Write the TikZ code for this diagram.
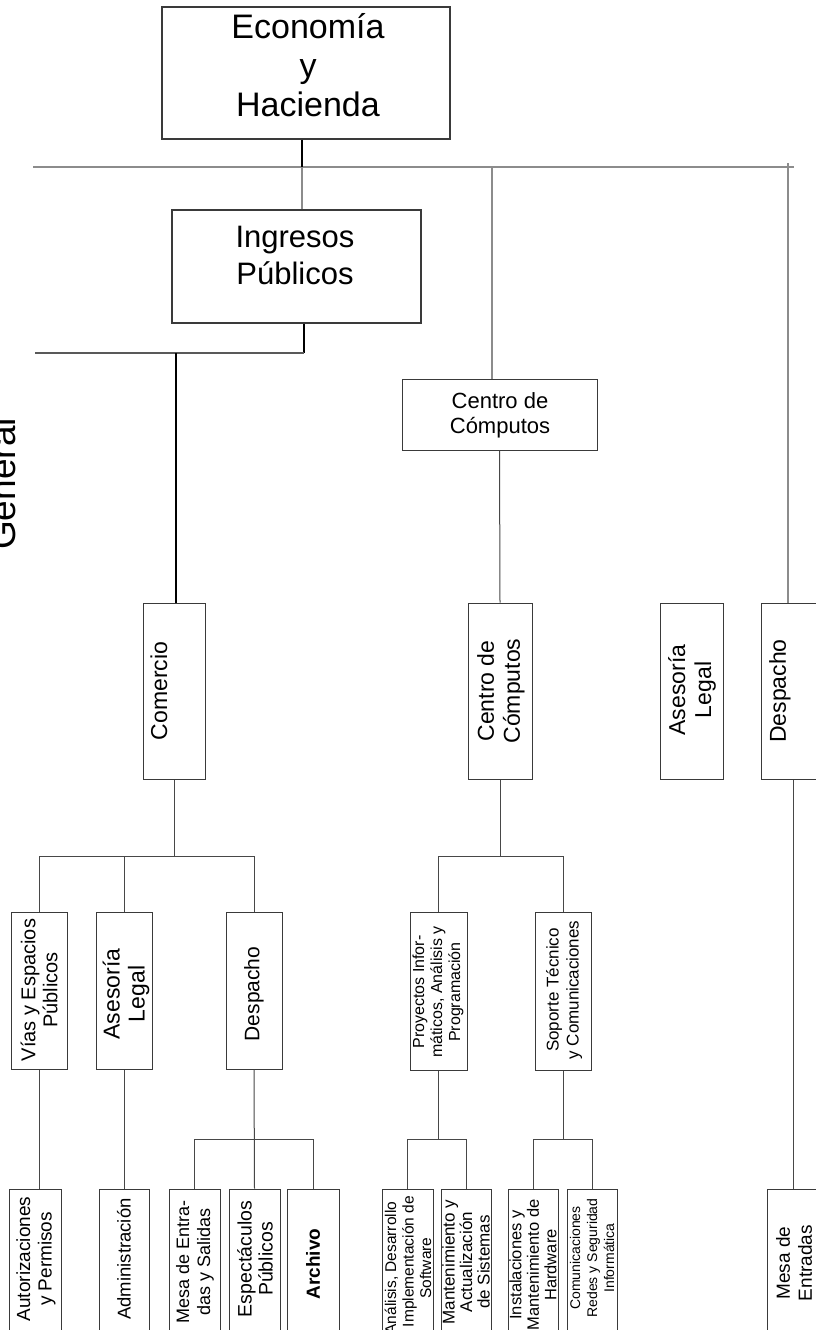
\documentclass[tikz,border=0pt]{standalone}
\usepackage{fontspec}
\setmainfont{Liberation Sans}
\definecolor{lgray}{HTML}{8C8C8C}
\definecolor{dgray}{HTML}{3A3A3A}
\newcommand\fsz[2]{\fontsize{#1}{#2}\selectfont}
\tikzset{
  bx/.style={draw=dgray, line width=1pt, inner sep=0pt, fill=white},
  gry/.style={draw=lgray, line width=2pt},
  ln/.style={draw=black!72, line width=1pt},
  blk/.style={draw=black, line width=1.6pt},
  thk/.style={draw=black, line width=2.2pt},
  dkg/.style={draw=black!65, line width=2pt},
  tx/.style={inner sep=0pt, align=center, text=black},
  rt/.style={tx, rotate=90},
}
\begin{document}
\begin{tikzpicture}[x=1pt,y=-1pt]
\path[use as bounding box] (0,0) rectangle (816,1330);
\clip (0,0) rectangle (816,1330);
\fill[white] (0,0) rectangle (816,1330);

% ---------- boxes ----------
\node[bx, line width=1.2pt, minimum width=288pt, minimum height=132pt] (eco) at (306,73) {};
\node[bx, line width=1.2pt, minimum width=249pt, minimum height=113pt] (ing) at (296.5,266.5) {};
\node[bx, minimum width=195pt, minimum height=71pt] (ccA) at (499.5,414.5) {};

\node[bx, minimum width=62pt, minimum height=176pt] (com) at (174,691) {};
\node[bx, minimum width=64pt, minimum height=176pt] (ccB) at (500,691) {};
\node[bx, minimum width=63pt, minimum height=176pt] (alR) at (691.5,691) {};
\node[bx, minimum width=64pt, minimum height=176pt] (despR) at (793,691) {};

\node[bx, minimum width=56pt, minimum height=157pt] (vias) at (39,990.5) {};
\node[bx, minimum width=56pt, minimum height=157pt] (alC) at (124,990.5) {};
\node[bx, minimum width=56pt, minimum height=157pt] (despC) at (254,990.5) {};
\node[bx, minimum width=57pt, minimum height=158pt] (proy) at (438.5,991) {};
\node[bx, minimum width=56pt, minimum height=158pt] (sop) at (563,991) {};

\node[bx, minimum width=52pt, minimum height=147pt] (aut) at (35,1262.5) {};
\node[bx, minimum width=50pt, minimum height=147pt] (adm) at (124,1262.5) {};
\node[bx, minimum width=51pt, minimum height=147pt] (mesaC) at (194.5,1262.5) {};
\node[bx, minimum width=51pt, minimum height=147pt] (esp) at (254.5,1262.5) {};
\node[bx, minimum width=52pt, minimum height=147pt] (arch) at (313,1262.5) {};
\node[bx, minimum width=51pt, minimum height=147pt] (anal) at (407.5,1262.5) {};
\node[bx, minimum width=50pt, minimum height=147pt] (mant) at (466,1262.5) {};
\node[bx, minimum width=50pt, minimum height=147pt] (inst) at (533,1262.5) {};
\node[bx, minimum width=50pt, minimum height=147pt] (comu) at (592,1262.5) {};
\node[bx, minimum width=52pt, minimum height=147pt] (mesaR) at (793,1262.5) {};

% ---------- texts ----------
\node[tx, font=\fsz{34}{39}] (ecoT) at (308,65.5) {Economía\\y\\Hacienda};
\node[tx, font=\fsz{31}{37}] (ingT) at (295,255.5) {Ingresos\\Públicos};
\node[tx, font=\fsz{22}{25}] (ccAT) at (500,415) {Centro de\\Cómputos};

\node[rt, font=\fsz{23}{26}] (comT) at (159,691) {Comercio};
\node[rt, font=\fsz{23}{26}] (ccBT) at (501,691) {Centro de\\Cómputos};
\node[rt, font=\fsz{23}{26}] (alRT) at (692,690) {Asesoría\\Legal};
\node[rt, font=\fsz{23}{26}] (despRT) at (780,691) {Despacho};

\node[rt, font=\fsz{20}{22}] (viasT) at (39,990) {Vías y Espacios\\Públicos};
\node[rt, font=\fsz{23}{25}] (alCT) at (126,994) {Asesoría\\Legal};
\node[rt, font=\fsz{21}{24}] (despCT) at (254,994) {Despacho};
\node[rt, font=\fsz{16}{18}] (proyT) at (438,992) {Proyectos Infor-\\máticos, Análisis y\\Programación};
\node[rt, font=\fsz{17}{20}] (sopT) at (564,990) {Soporte Técnico\\y Comunicaciones};

\node[rt, font=\fsz{19}{21.5}] (autT) at (36,1259) {Autorizaciones\\y Permisos};
\node[rt, font=\fsz{18.5}{21}] (admT) at (124,1259) {Administración};
\node[rt, font=\fsz{18}{21}] (mesaCT) at (195,1262) {Mesa de Entra-\\das y Salidas};
\node[rt, font=\fsz{19.5}{21}] (espT) at (255,1259) {Espectáculos\\Públicos};
\node[rt, font=\fsz{19}{21}\bfseries] (archT) at (313,1264) {Archivo};
\node[rt, font=\fsz{15.5}{17.5}] (analT) at (408,1268) {Análisis, Desarrollo\\e Implementación de\\Software};
\node[rt, font=\fsz{17}{17.5}] (mantT) at (466,1262) {Mantenimiento y\\Actualización\\de Sistemas};
\node[rt, font=\fsz{16.5}{17.5}] (instT) at (533,1265) {Instalaciones y\\Mantenimiento de\\Hardware};
\node[rt, font=\fsz{14}{17}] (comuT) at (592,1258) {Comunicaciones\\Redes y Seguridad\\Informática};
\node[rt, font=\fsz{19}{22}] (mesaRT) at (794,1263) {Mesa de\\Entradas};

\node[rt, font=\fsz{37}{40}, anchor=base] (gen) at (15,484) {General};

% ---------- connectors ----------
\coordinate (t1) at (302,167);
\coordinate (t2) at (492,167);
\coordinate (t3) at (788,163);
\coordinate (b0L) at (33,167);
\coordinate (b0R) at (794,167);
\coordinate (t4) at (304,353);
\coordinate (b1L) at (35,353);
\coordinate (t5) at (176,353);
\coordinate (b2) at (0,856);
\coordinate (b3) at (0,1139);

\draw[gry] (b0L) -- (b0R);
\draw[gry] (t1) -- (t1 |- ing.north);
\draw[gry] (t2) -- (t2 |- ccA.north);
\draw[gry] (t3) -- (t3 |- despR.north);
\draw[blk] (t1 |- eco.south) -- (t1);
\draw[blk] (t4 |- ing.south) -- (t4);
\draw[dkg] (t4) -- (b1L);
\draw[thk] (t5) -- (t5 |- com.north);

\draw[ln] (ccA.south) -- (ccB.north);

\draw[ln] (com.south) -- (com.south |- b2);
\draw[ln] (vias.north |- b2) -- (despC.north |- b2);
\draw[ln] (vias.north |- b2) -- (vias.north);
\draw[ln] (alC.north |- b2) -- (alC.north);
\draw[ln] (despC.north |- b2) -- (despC.north);

\draw[ln] (ccB.south) -- (ccB.south |- b2);
\draw[ln] (proy.north |- b2) -- (sop.north |- b2);
\draw[ln] (proy.north |- b2) -- (proy.north);
\draw[ln] (sop.north |- b2) -- (sop.north);

\draw[ln] (despR.south) -- (mesaR.north);

\draw[ln] (vias.south) -- (vias.south |- aut.north);
\draw[ln] (alC.south) -- (adm.north);
\draw[ln] (despC.south) -- (esp.north);
\draw[ln] (mesaC.north |- b3) -- (arch.north |- b3);
\draw[ln] (mesaC.north |- b3) -- (mesaC.north);
\draw[ln] (arch.north |- b3) -- (arch.north);

\draw[ln] (proy.south) -- (proy.south |- b3);
\draw[ln] (anal.north |- b3) -- (mant.north |- b3);
\draw[ln] (anal.north |- b3) -- (anal.north);
\draw[ln] (mant.north |- b3) -- (mant.north);

\draw[ln] (sop.south) -- (sop.south |- b3);
\draw[ln] (inst.north |- b3) -- (comu.north |- b3);
\draw[ln] (inst.north |- b3) -- (inst.north);
\draw[ln] (comu.north |- b3) -- (comu.north);
\end{tikzpicture}
\end{document}
